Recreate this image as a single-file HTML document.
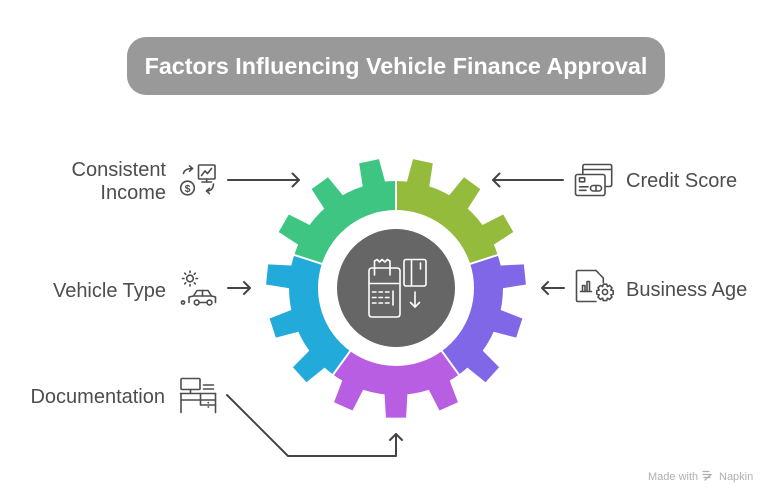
<!DOCTYPE html>
<html>
<head>
<meta charset="utf-8">
<style>
  html,body{margin:0;padding:0;background:#fff;}
  body{width:780px;height:504px;overflow:hidden;}
  svg{display:block;}
  .lbl{font-family:"Liberation Sans",Arial,sans-serif;font-size:20px;fill:#4d4d4d;}
  .ic{fill:none;stroke:#4d4d4d;stroke-width:1.6;stroke-linecap:round;stroke-linejoin:round;}
  .ci{fill:none;stroke:#fff;stroke-width:1.6;stroke-linecap:round;stroke-linejoin:round;}
  .ar{fill:none;stroke:#444;stroke-width:2;stroke-linecap:round;stroke-linejoin:round;}
</style>
</head>
<body>
<svg width="780" height="504" viewBox="0 0 780 504" xmlns="http://www.w3.org/2000/svg">
  <defs>
    <polygon id="t" points="384.48,183.63 385.91,158.4 406.09,158.4 407.52,183.63"/>
  </defs>

  <!-- Title -->
  <rect x="127" y="37" width="538" height="58" rx="19" ry="19" fill="#999999"/>
  <text x="396" y="74" text-anchor="middle" font-family="'Liberation Sans',Arial,sans-serif" font-weight="bold" font-size="23.3" fill="#ffffff">Factors Influencing Vehicle Finance Approval</text>

  <!-- Gear segments -->
  <!-- Olive 0-72 -->
  <path d="M396,181 A107,107 0 0 1 497.76,254.93 L470.18,263.90 A78,78 0 0 0 396,210 Z" fill="#94bb3b"/>
  <use href="#t" transform="rotate(12 396 288)" fill="#94bb3b"/>
  <use href="#t" transform="rotate(36 396 288)" fill="#94bb3b"/>
  <use href="#t" transform="rotate(60 396 288)" fill="#94bb3b"/>
  <!-- Violet 72-144 -->
  <path d="M497.76,254.93 A107,107 0 0 1 458.89,374.57 L441.85,351.10 A78,78 0 0 0 470.18,263.90 Z" fill="#7f67e7"/>
  <use href="#t" transform="rotate(84 396 288)" fill="#7f67e7"/>
  <use href="#t" transform="rotate(108 396 288)" fill="#7f67e7"/>
  <use href="#t" transform="rotate(132 396 288)" fill="#7f67e7"/>
  <!-- Magenta 144-216 -->
  <path d="M458.89,374.57 A107,107 0 0 1 333.11,374.57 L350.15,351.10 A78,78 0 0 0 441.85,351.10 Z" fill="#b75ee3"/>
  <use href="#t" transform="rotate(156 396 288)" fill="#b75ee3"/>
  <use href="#t" transform="rotate(180 396 288)" fill="#b75ee3"/>
  <use href="#t" transform="rotate(204 396 288)" fill="#b75ee3"/>
  <!-- Blue 216-288 -->
  <path d="M333.11,374.57 A107,107 0 0 1 294.24,254.93 L321.82,263.90 A78,78 0 0 0 350.15,351.10 Z" fill="#21aada"/>
  <use href="#t" transform="rotate(228 396 288)" fill="#21aada"/>
  <use href="#t" transform="rotate(252 396 288)" fill="#21aada"/>
  <use href="#t" transform="rotate(276 396 288)" fill="#21aada"/>
  <!-- Green 288-360 -->
  <path d="M294.24,254.93 A107,107 0 0 1 396,181 L396,210 A78,78 0 0 0 321.82,263.90 Z" fill="#3ec582"/>
  <use href="#t" transform="rotate(300 396 288)" fill="#3ec582"/>
  <use href="#t" transform="rotate(324 396 288)" fill="#3ec582"/>
  <use href="#t" transform="rotate(348 396 288)" fill="#3ec582"/>

  <!-- separators -->
  <g stroke="#ffffff" stroke-width="2">
    <line x1="396" y1="213" x2="396" y2="153"/>
    <line x1="467.33" y1="264.82" x2="524.39" y2="246.28"/>
    <line x1="440.08" y1="348.68" x2="475.35" y2="397.22"/>
    <line x1="351.92" y1="348.68" x2="316.65" y2="397.22"/>
    <line x1="324.67" y1="264.82" x2="267.61" y2="246.28"/>
  </g>

  <!-- center -->
  <circle cx="396" cy="288" r="59" fill="#666666"/>
  <!-- terminal -->
  <path class="ci" d="M369,271 L369,314 Q369,317 372,317 L397,317 Q400,317 400,314 L400,271 Q400,268 397,268 L372,268 Q369,268 369,271 Z"/>
  <path class="ci" d="M374.5,275 L374.5,261 L377,259.5 L379.5,262 L382,259.5 L385,262 L387.5,259.5 L390,261 L390,275"/>
  <line class="ci" x1="369" y1="283.5" x2="400" y2="283.5"/>
  <line class="ci" x1="372.5" y1="292" x2="376" y2="292"/>
  <line class="ci" x1="379" y1="292" x2="382.5" y2="292"/>
  <line class="ci" x1="385.5" y1="292" x2="389" y2="292"/>
  <line class="ci" x1="372.5" y1="297.5" x2="376" y2="297.5"/>
  <line class="ci" x1="379" y1="297.5" x2="382.5" y2="297.5"/>
  <line class="ci" x1="385.5" y1="297.5" x2="389" y2="297.5"/>
  <line class="ci" x1="372.5" y1="303" x2="376" y2="303"/>
  <line class="ci" x1="379" y1="303" x2="382.5" y2="303"/>
  <line class="ci" x1="385.5" y1="303" x2="389" y2="303"/>
  <line class="ci" x1="393" y1="291" x2="393" y2="305"/>
  <!-- card -->
  <rect class="ci" x="404" y="259.5" width="22" height="26.5" rx="2"/>
  <line class="ci" x1="411.5" y1="260" x2="411.5" y2="285.5"/>
  <line class="ci" x1="420.5" y1="263" x2="420.5" y2="269"/>
  <!-- down arrow -->
  <line class="ci" x1="415" y1="292" x2="415" y2="307"/>
  <path class="ci" d="M410.5,302.5 L415,307 L419.5,302.5"/>

  <!-- Labels -->
  <text class="lbl" x="166" y="176" text-anchor="end">Consistent</text>
  <text class="lbl" x="166" y="199" text-anchor="end">Income</text>
  <text class="lbl" x="166" y="297" text-anchor="end">Vehicle Type</text>
  <text class="lbl" x="165" y="403" text-anchor="end">Documentation</text>
  <text class="lbl" x="626" y="187">Credit Score</text>
  <text class="lbl" x="626" y="296">Business Age</text>

  <!-- Arrows -->
  <line class="ar" x1="228" y1="180" x2="299" y2="180"/>
  <path class="ar" d="M292.5,173.5 L299,180 L292.5,186.5"/>
  <line class="ar" x1="563" y1="180" x2="493" y2="180"/>
  <path class="ar" d="M499.5,173.5 L493,180 L499.5,186.5"/>
  <line class="ar" x1="228" y1="288" x2="250" y2="288"/>
  <path class="ar" d="M244,282 L250,288 L244,294"/>
  <line class="ar" x1="564" y1="288" x2="542" y2="288"/>
  <path class="ar" d="M548,282 L542,288 L548,294"/>
  <path class="ar" d="M227,395 L288,456 L396,456 L396,434"/>
  <path class="ar" d="M390,440 L396,434 L402,440"/>

  <!-- Consistent Income icon -->
  <rect class="ic" x="198.5" y="165" width="16.5" height="14" rx="1"/>
  <path class="ic" d="M201.5,175.5 L205,171 L207.5,173.5 L211.5,168.5"/>
  <line class="ic" x1="206.7" y1="179" x2="206.7" y2="182"/>
  <line class="ic" x1="202" y1="182" x2="211.5" y2="182"/>
  <path class="ic" d="M183.5,173.5 Q184.5,168.5 192.5,168.5"/>
  <path class="ic" d="M189.5,165.8 L192.5,168.5 L189.5,171.2"/>
  <circle class="ic" cx="187.5" cy="188" r="6.8"/>
  <text x="187.5" y="192" text-anchor="middle" font-family="'Liberation Sans',Arial,sans-serif" font-size="10.5" font-weight="bold" fill="#4d4d4d">$</text>
  <path class="ic" d="M213.5,184 Q213,191 206.5,191"/>
  <path class="ic" d="M209.5,188.3 L206.5,191 L209.5,193.7"/>

  <!-- Vehicle Type icon -->
  <circle class="ic" cx="190" cy="278.5" r="3.3"/>
  <g class="ic">
    <line x1="190" y1="271" x2="190" y2="272.5"/>
    <line x1="190" y1="284.5" x2="190" y2="286"/>
    <line x1="182.5" y1="278.5" x2="184" y2="278.5"/>
    <line x1="196" y1="278.5" x2="197.5" y2="278.5"/>
    <line x1="184.7" y1="273.2" x2="185.7" y2="274.2"/>
    <line x1="194.3" y1="282.8" x2="195.3" y2="283.8"/>
    <line x1="195.3" y1="273.2" x2="194.3" y2="274.2"/>
    <line x1="185.7" y1="282.8" x2="184.7" y2="283.8"/>
  </g>
  <circle class="ic" cx="183" cy="302.5" r="1.6"/>
  <path class="ic" d="M189,302.5 L189,297 L193.5,296 L197,290.5 L208,290.5 L211.5,296 L215.5,297 L215.5,302.5"/>
  <line class="ic" x1="193.5" y1="296" x2="211.5" y2="296"/>
  <line class="ic" x1="202.5" y1="290.5" x2="202.5" y2="296"/>
  <circle class="ic" cx="196.7" cy="302.5" r="2.4"/>
  <circle class="ic" cx="209.5" cy="302.5" r="2.4"/>
  <line class="ic" x1="199.5" y1="302.5" x2="206.5" y2="302.5"/>

  <!-- Credit Score icon -->
  <path class="ic" d="M582.8,173.5 L582.8,166.5 Q582.8,164.5 584.8,164.5 L609.7,164.5 Q611.7,164.5 611.7,166.5 L611.7,184.5 Q611.7,186.5 609.7,186.5 L605,186.5"/>
  <line class="ic" x1="583" y1="169.5" x2="611.5" y2="169.5"/>
  <rect class="ic" x="575.5" y="174.5" width="29.5" height="21" rx="2"/>
  <rect class="ic" x="579.5" y="177.8" width="5.2" height="4" rx="0.5"/>
  <line class="ic" x1="579.5" y1="186.8" x2="588" y2="186.8"/>
  <line class="ic" x1="579.5" y1="190.3" x2="586" y2="190.3"/>
  <rect class="ic" x="590.5" y="185.5" width="11" height="5.5" rx="2.75"/>
  <line class="ic" x1="596" y1="185.8" x2="596" y2="190.8"/>

  <!-- Business Age icon -->
  <path class="ic" d="M596,270.5 L578,270.5 Q576.5,270.5 576.5,272 L576.5,300 Q576.5,301.5 578,301.5 L596,301.5"/>
  <path class="ic" d="M596,270.5 L603.3,278 L603.3,282.5"/>
  <path class="ic" d="M580.5,291.5 L591.5,291.5"/>
  <path class="ic" d="M582.5,291.5 L582.5,285.5 L585,285.5 L585,291.5 M587,291.5 L587,281.5 L589.5,281.5 L589.5,291.5"/>
  <circle class="ic" cx="605" cy="292" r="2.6"/>
  <path class="ic" d="M603.3,284.2 L606.7,284.2 L607.4,286.6 L609.6,285.4 L612,287.8 L610.8,290 L613.2,290.7 L613.2,294.1 L610.8,294.8 L612,297 L609.6,299.4 L607.4,298.2 L606.7,300.6 L603.3,300.6 L602.6,298.2 L600.4,299.4 L598,297 L599.2,294.8 L596.8,294.1 L596.8,290.7 L599.2,290 L598,287.8 L600.4,285.4 L602.6,286.6 Z"/>

  <!-- Documentation icon -->
  <rect class="ic" x="181" y="378.5" width="19" height="11" rx="1"/>
  <line class="ic" x1="190.5" y1="389.5" x2="190.5" y2="393"/>
  <line class="ic" x1="203.5" y1="385" x2="213.5" y2="385"/>
  <line class="ic" x1="203.5" y1="389" x2="213.5" y2="389"/>
  <line class="ic" x1="180.5" y1="393.5" x2="215.5" y2="393.5"/>
  <line class="ic" x1="181" y1="393.5" x2="181" y2="412.5"/>
  <path class="ic" d="M200.5,393.5 L200.5,400 L215.5,400 M200.5,400 L200.5,405 L215.5,405"/>
  <line class="ic" x1="215.5" y1="393.5" x2="215.5" y2="412.5"/>
  <line class="ic" x1="181" y1="400" x2="200.5" y2="400"/>
  <circle cx="208.3" cy="402.7" r="0.9" fill="#4d4d4d"/>
  <circle cx="208.3" cy="407" r="0.9" fill="#4d4d4d"/>

  <!-- watermark -->
  <text x="648" y="480" font-family="'Liberation Sans',Arial,sans-serif" font-size="11" fill="#b0b0b0">Made with</text>
  <g fill="none" stroke="#b0b0b0" stroke-width="1.3" stroke-linecap="round">
    <path d="M703,471.5 L709,471.5 M703,474.5 L711,474.5 L705,480 M704,477.5 L710,477.5"/>
  </g>
  <text x="719" y="480" font-family="'Liberation Sans',Arial,sans-serif" font-size="11" fill="#b0b0b0">Napkin</text>
</svg>
</body>
</html>
